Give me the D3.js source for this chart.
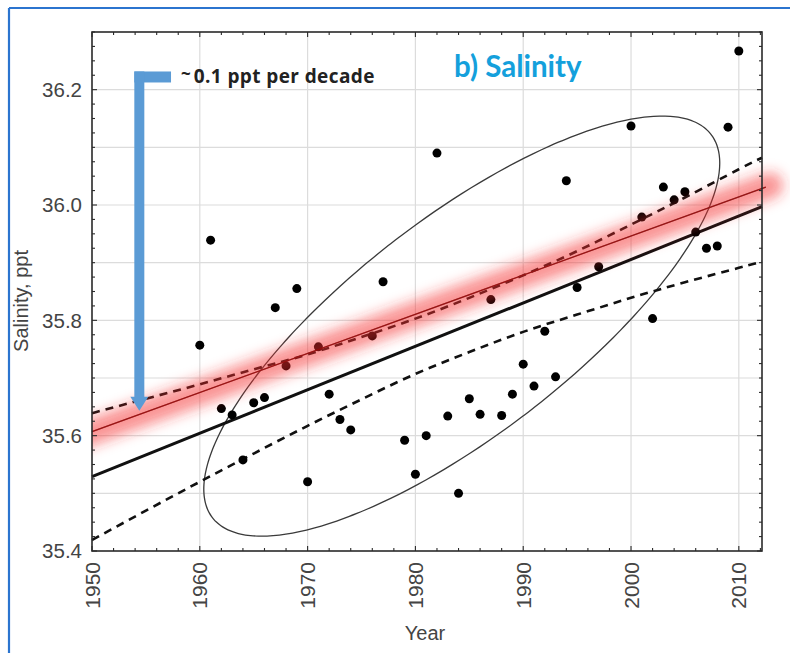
<!DOCTYPE html>
<html><head><meta charset="utf-8">
<script src="https://cdn.jsdelivr.net/npm/d3@7"></script>
<style>body{margin:0;background:#fff}svg{display:block}</style>
</head><body><svg id="chart" width="790" height="653"></svg>
<script>
// ---- data ----
const years = [1960,1961,1962,1963,1964,1965,1966,1967,1968,1969,1970,1971,1972,1973,1974,1976,1977,1979,1980,1981,1982,1983,1984,1985,1986,1987,1988,1989,1990,1991,1992,1993,1994,1995,1997,2000,2001,2002,2003,2004,2005,2006,2007,2008,2009,2010];
const salinity = [35.757,35.939,35.647,35.636,35.558,35.657,35.666,35.822,35.721,35.855,35.520,35.754,35.672,35.628,35.610,35.773,35.867,35.592,35.533,35.600,36.090,35.634,35.500,35.664,35.637,35.836,35.635,35.672,35.724,35.686,35.781,35.702,36.042,35.857,35.893,36.137,35.979,35.803,36.031,36.009,36.023,35.953,35.925,35.929,36.135,36.267];

const fitYears = [1950, 2012.15];
const fitValues = [35.529, 35.997];
const highlightYears = [1950, 2012.5];
const highlightValues = [35.607, 36.031];

const bandYears = [1950,1955,1960,1965,1970,1975,1980,1985,1990,1995,2000,2005,2010,2012.15];
const bandUpper = [35.639,35.664,35.689,35.715,35.741,35.771,35.803,35.839,35.878,35.920,35.966,36.013,36.062,36.082];
const bandLower = [35.419,35.470,35.520,35.569,35.617,35.663,35.707,35.745,35.780,35.810,35.839,35.866,35.891,35.902];

const ellipseCenter = [1984.3, 35.79];
const ellipseYearRadius = 23.93;
const ellipseSalCos = 0.2827;
const ellipseSalSin = 0.2297;

const xTicks = [1950,1960,1970,1980,1990,2000,2010];
const yTicks = [35.4,35.6,35.8,36.0,36.2];
const yGrid = [35.5,35.6,35.7,35.8,35.9,36.0,36.1,36.2];

const titleText = "b) Salinity";
const noteText = "0.1 ppt per decade";
const xLabel = "Year";
const yLabel = "Salinity, ppt";

// ---- layout ----
const L = 92, R = 762, T = 32, B = 551;
const x = d3.scaleLinear().domain([1950, 2012.15]).range([L, R]);
const y = d3.scaleLinear().domain([35.4, 36.3]).range([B, T]);

const svg = d3.select("#chart");
const defs = svg.append("defs");
defs.append("filter").attr("id","glow").attr("x","-20%").attr("y","-150%").attr("width","140%").attr("height","400%")
  .append("feGaussianBlur").attr("stdDeviation", 6.5);
defs.append("clipPath").attr("id","clipLeft").append("rect")
  .attr("x", L).attr("y", 0).attr("width", 790 - L).attr("height", 653);

// outer blue frame (top + left)
svg.append("line").attr("x1",9).attr("x2",790).attr("y1",8).attr("y2",8).attr("stroke","#2b74cf").attr("stroke-width",2.2);
svg.append("line").attr("x1",9).attr("x2",9).attr("y1",8).attr("y2",653).attr("stroke","#2b74cf").attr("stroke-width",2.2);

// grid
const g = svg.append("g");
g.selectAll(".vg").data(xTicks.slice(1)).join("line")
  .attr("x1", d => x(d)).attr("x2", d => x(d)).attr("y1", T).attr("y2", B)
  .attr("stroke", "#dcdcdc").attr("stroke-width", 1.2);
g.selectAll(".hg").data(yGrid).join("line")
  .attr("x1", L).attr("x2", R).attr("y1", d => y(d)).attr("y2", d => y(d))
  .attr("stroke", "#dcdcdc").attr("stroke-width", 1.2);

// ellipse
const ellPts = d3.range(0, 360, 2).map(a => {
  const t = a * Math.PI / 180;
  return [ellipseCenter[0] + ellipseYearRadius * Math.cos(t),
          ellipseCenter[1] + ellipseSalCos * Math.cos(t) + ellipseSalSin * Math.sin(t)];
});
svg.append("path").attr("d", d3.line().x(d => x(d[0])).y(d => y(d[1])).curve(d3.curveCardinalClosed)(ellPts))
  .attr("fill","none").attr("stroke","#3a3a3a").attr("stroke-width",1.3);

// confidence bands
const bandLine = (vals) => d3.line().x((d,i) => x(bandYears[i])).y((d) => y(d)).curve(d3.curveNatural)(vals);
[bandUpper, bandLower].forEach(v => {
  svg.append("path").attr("d", bandLine(v)).attr("fill","none").attr("stroke","#111")
    .attr("stroke-width",2.6).attr("stroke-dasharray","8,6");
});

// regression line
svg.append("path").attr("d", d3.line().x((d,i)=>x(fitYears[i])).y(d=>y(d))(fitValues))
  .attr("fill","none").attr("stroke","#111").attr("stroke-width",3);

// highlighted thin line
const hlPath = d3.line().x((d,i)=>x(highlightYears[i])).y(d=>y(d))(highlightValues);
svg.append("path").attr("d", hlPath).attr("fill","none").attr("stroke","#222").attr("stroke-width",1.3);

// points
svg.selectAll(".pt").data(years).join("circle")
  .attr("cx", d => x(d)).attr("cy", (d,i) => y(salinity[i])).attr("r", 4.5).attr("fill", "#000");

// red glow on top
svg.append("g").attr("clip-path","url(#clipLeft)")
  .append("path").attr("d", d3.line().x((d,i)=>x(highlightYears[i] + (i ? 0.4 : -1))).y((d,i)=>y(d + (i ? 0.003 : -0.007)))(highlightValues))
  .attr("fill","none").attr("stroke","rgb(245,40,40)").attr("stroke-opacity",0.5)
  .attr("stroke-width",26).attr("stroke-linecap","round").attr("filter","url(#glow)");
svg.append("path").attr("d", hlPath).attr("fill","none").attr("stroke","#b00000").attr("stroke-width",1.1).attr("opacity",0.5);

// frame
svg.append("rect").attr("x", L).attr("y", T).attr("width", R-L).attr("height", B-T)
  .attr("fill","none").attr("stroke","#2a2a2a").attr("stroke-width",1.6);

// ticks (inward)
const tg = svg.append("g").attr("stroke","#2a2a2a").attr("stroke-width",1.1);
const xMinor = d3.range(1950, 2013, 2);
xMinor.forEach(v => {
  const len = (v % 10 === 0) ? 5 : 3;
  tg.append("line").attr("x1",x(v)).attr("x2",x(v)).attr("y1",B).attr("y2",B-len);
  tg.append("line").attr("x1",x(v)).attr("x2",x(v)).attr("y1",T).attr("y2",T+len);
});
const yMinor = d3.range(0, 37).map(i => 35.4 + i * 0.025);
yMinor.forEach((v,i) => {
  const len = (i % 8 === 0) ? 5 : 3;
  tg.append("line").attr("x1",L).attr("x2",L+len).attr("y1",y(v)).attr("y2",y(v));
  tg.append("line").attr("x1",R).attr("x2",R-len).attr("y1",y(v)).attr("y2",y(v));
});

// tick labels
svg.selectAll(".yl").data(yTicks).join("text")
  .attr("x", 82).attr("y", d => y(d)).attr("dy","0.36em").attr("text-anchor","end")
  .attr("font-family","Liberation Sans, Arial, sans-serif").attr("font-size",20.5).attr("fill","#444")
  .text(d => d.toFixed(1));
svg.selectAll(".xl").data(xTicks).join("text")
  .attr("transform", d => `translate(${x(d)},562) rotate(-90)`).attr("dy","0.36em").attr("text-anchor","end")
  .attr("font-family","Liberation Sans, Arial, sans-serif").attr("font-size",21).attr("fill","#444")
  .text(d => d);

// axis titles
svg.append("text").attr("x", 425).attr("y", 640).attr("text-anchor","middle")
  .attr("font-family","Liberation Sans, Arial, sans-serif").attr("font-size",20).attr("fill","#444").text(xLabel);
svg.append("text").attr("transform","translate(28,301) rotate(-90)").attr("text-anchor","middle")
  .attr("font-family","Liberation Sans, Arial, sans-serif").attr("font-size",20).attr("fill","#444").text(yLabel);

// title
svg.append("text").attr("x", 454).attr("y", 77).attr("font-family","Lato, sans-serif").attr("font-weight",700)
  .attr("font-size",29.5).attr("fill","#14a0dc").text(titleText);

// blue bracket arrow annotation
const ax = x(1954.39), axEnd = x(1957.33);
const aTop = y(36.222), aTip = y(35.643);
const blue = "#5b9bd5";
svg.append("rect").attr("x", ax - 5).attr("y", aTop - 5.5).attr("width", axEnd - ax + 5).attr("height", 11).attr("fill", blue);
svg.append("rect").attr("x", ax - 5).attr("y", aTop - 5.5).attr("width", 10).attr("height", aTip - aTop - 5).attr("fill", blue);
svg.append("path").attr("d", `M${ax-9},${aTip-14} L${ax+9},${aTip-14} L${ax},${aTip} Z`).attr("fill", blue);

// note text
const nt = svg.append("text").attr("x", 181).attr("y", 83).attr("font-family","Open Sans, sans-serif")
  .attr("font-weight",700).attr("fill","#222");
nt.append("tspan").attr("font-size",17).attr("dy",-3).text("~");
nt.append("tspan").attr("font-size",19).attr("dy",3).attr("dx",3).attr("letter-spacing",0.4).text(noteText);
</script></body></html>
